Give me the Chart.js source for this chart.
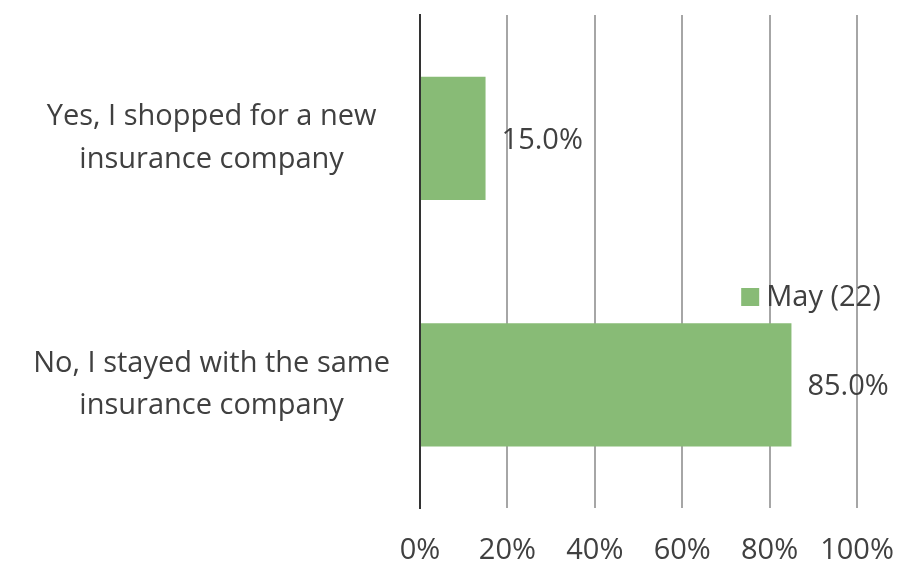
<!DOCTYPE html>
<html>
<head>
<meta charset="utf-8">
<script src="https://cdn.jsdelivr.net/npm/chart.js@4.4.0/dist/chart.umd.min.js"></script>
<style>
  html, body { margin: 0; padding: 0; background: #fff; }
  #wrap { width: 915px; height: 575px; position: relative; }
</style>
</head>
<body>
<div id="wrap"><canvas id="myChart"></canvas></div>
<script>
'use strict';

//chart data
let categories = [
  ['Yes, I shopped for a new', 'insurance company'],
  ['No, I stayed with the same', 'insurance company']
];
let seriesName = 'May (22)';
let seriesValues = [15.0, 85.0];
let tickValues = [0, 20, 40, 60, 80, 100];

let textColor = '#404040';
let barColor = '#88BB76';
let fontFamily = '"Open Sans", sans-serif';
let fontSize = 29;

//value labels at the end of each bar
const valueLabels = {
  id: 'valueLabels',
  afterDatasetsDraw(chart) {
    let ctx = chart.ctx;
    let meta = chart.getDatasetMeta(0);
    ctx.save();
    ctx.font = fontSize + 'px ' + fontFamily;
    ctx.fillStyle = textColor;
    ctx.textAlign = 'left';
    ctx.textBaseline = 'middle';
    meta.data.forEach(function(bar, i) {
      ctx.fillText(seriesValues[i].toFixed(1) + '%', bar.x + 16, bar.y + 2);
    });
    ctx.restore();
  }
};

//legend drawn inside the plot
const innerLegend = {
  id: 'innerLegend',
  afterDraw(chart) {
    let ctx = chart.ctx;
    let x = chart.scales.x.getPixelForValue(73.5);
    let y = chart.scales.y.top + 282;
    ctx.save();
    ctx.fillStyle = barColor;
    ctx.fillRect(x, y - 9, 18, 18);
    ctx.font = fontSize + 'px ' + fontFamily;
    ctx.fillStyle = textColor;
    ctx.textAlign = 'left';
    ctx.textBaseline = 'middle';
    ctx.fillText(chart.data.datasets[0].label, x + 25, y + 1);
    ctx.restore();
  }
};

const ctx = document.getElementById('myChart');
new Chart(ctx, {
  type: 'bar',
  data: {
    labels: categories,
    datasets: [{
      label: seriesName,
      data: seriesValues,
      backgroundColor: barColor,
      borderWidth: 0,
      barPercentage: 0.5,
      categoryPercentage: 1
    }]
  },
  options: {
    indexAxis: 'y',
    responsive: true,
    maintainAspectRatio: false,
    animation: false,
    layout: { padding: { top: 15, right: 58, left: 0, bottom: 0 } },
    plugins: {
      legend: { display: false },
      tooltip: { enabled: false }
    },
    scales: {
      x: {
        min: 0,
        max: 100,
        afterBuildTicks(scale) {
          scale.ticks = tickValues.map(function(v) { return { value: v }; });
        },
        afterFit(scale) {
          scale.height = 67;
          scale.paddingLeft = 0;
          scale.paddingRight = 0;
        },
        grid: { color: '#A6A6A6', lineWidth: 2, drawTicks: false },
        border: { display: false },
        ticks: {
          padding: 25,
          color: textColor,
          font: { size: fontSize, family: fontFamily },
          callback: function(v) { return v + '%'; }
        }
      },
      y: {
        afterFit(scale) {
          scale.width = 420;
          scale.paddingTop = 0;
          scale.paddingBottom = 0;
        },
        grid: { display: false, drawTicks: false },
        border: { display: true, color: '#333333', width: 2 },
        ticks: {
          padding: 30,
          crossAlign: 'center',
          color: textColor,
          font: { size: fontSize, family: fontFamily, lineHeight: 1.45 }
        }
      }
    }
  },
  plugins: [valueLabels, innerLegend]
});
</script>
</body>
</html>
